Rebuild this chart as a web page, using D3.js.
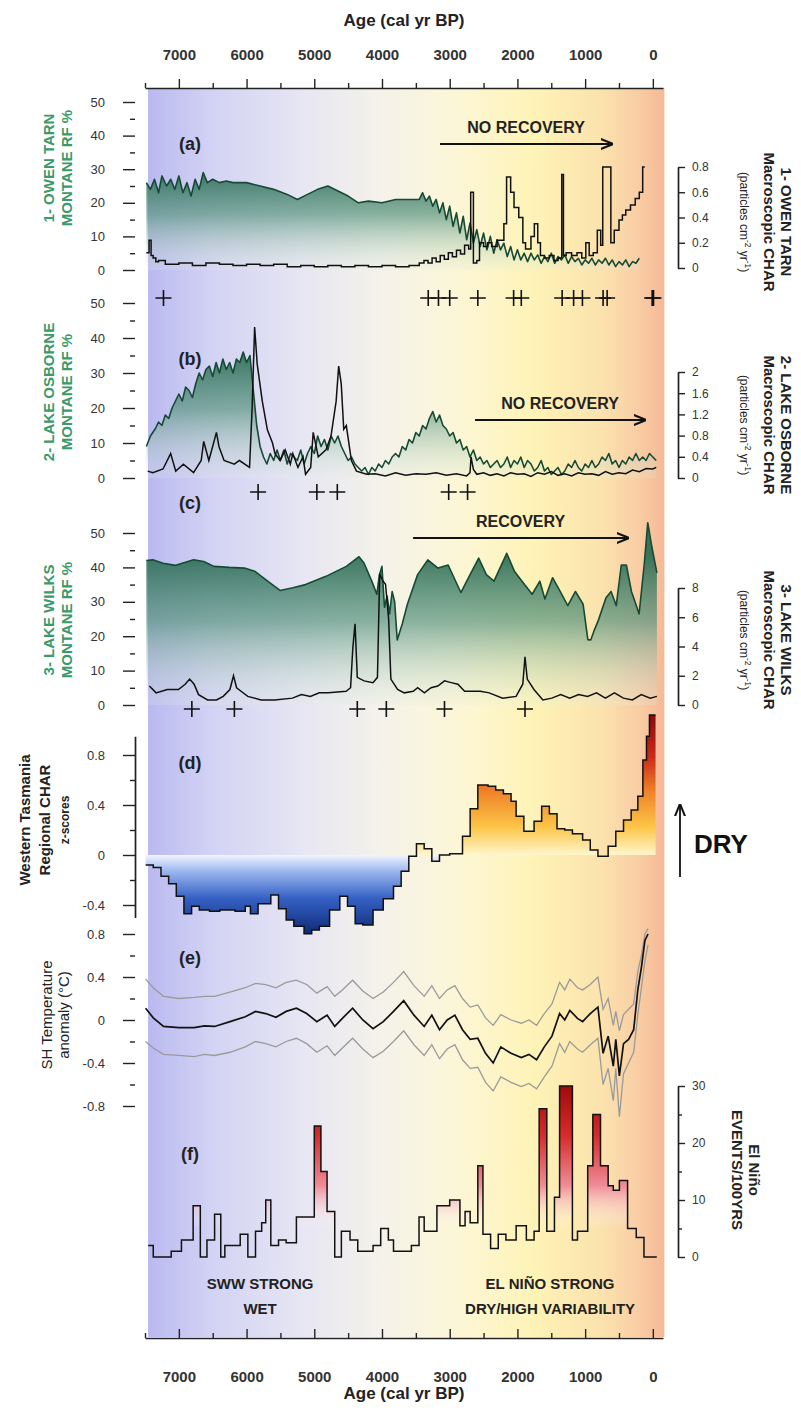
<!DOCTYPE html>
<html lang="en">
<head>
<meta charset="UTF-8">
<title>Fire, vegetation and climate, western Tasmania</title>
<script src="https://cdn.jsdelivr.net/npm/d3@7"></script>
<style>
  html, body { margin: 0; padding: 0; background: #fff; }
  text { font-family: "Liberation Sans Narrow", "Liberation Sans", Arial, sans-serif; }
</style>
</head>
<body>
<script>
// ---- data (age cal yr BP, value) ----
const majorTicks = [7000, 6000, 5000, 4000, 3000, 2000, 1000, 0];
const minorTicks = [7500, 6500, 5500, 4500, 3500, 2500, 1500, 500];

// (a) Owen Tarn
const owenRf = [[7480,26],[7420,24],[7360,27],[7300,23],[7250,28],[7180,25],[7120,27],[7060,24],[7000,28],[6940,23],[6880,26],[6820,22],[6760,27],[6700,24],[6640,29],[6580,26],[6500,27],[6400,26],[6300,26.5],[6200,26],[6000,26],[5800,25],[5600,24],[5400,22.5],[5250,21],[5100,22.5],[4950,24],[4800,25],[4650,23.5],[4500,22],[4350,20],[4200,20.5],[4000,20],[3800,21],[3600,21],[3450,21],[3400,23],[3350,20.5],[3300,22],[3250,19],[3200,21],[3150,17],[3100,20],[3050,15],[3000,19],[2950,13],[2900,17],[2850,11],[2800,16],[2750,9],[2700,14],[2650,8],[2600,12],[2550,7],[2500,11],[2450,6],[2400,10],[2350,5],[2300,9],[2250,6],[2200,8],[2150,4],[2100,7],[2050,3],[2000,6],[1950,3],[1900,5],[1850,2.5],[1800,5],[1750,3],[1700,4.5],[1650,2],[1600,4],[1550,2.5],[1500,5],[1450,2],[1400,4],[1350,3],[1300,4.5],[1250,2],[1200,4],[1150,2.5],[1100,3.5],[1050,1.5],[1000,3],[950,2],[900,3.5],[850,1.5],[800,3],[750,2],[700,3.5],[650,1.5],[600,3],[550,1],[500,2.5],[450,1.5],[400,3],[350,1],[300,2.5],[250,2],[200,3.5]];
const owenChar = [[7480,0.12],[7440,0.22],[7410,0.1],[7380,0.08],[7340,0.05],[7300,0.06],[7200,0.03],[7000,0.04],[6800,0.02],[6600,0.04],[6400,0.03],[6200,0.02],[6000,0.03],[5800,0.02],[5600,0.03],[5400,0.01],[5200,0.02],[5000,0.01],[4800,0.02],[4600,0.01],[4400,0.02],[4200,0.01],[4000,0.02],[3800,0.01],[3600,0.02],[3450,0.04],[3380,0.06],[3320,0.04],[3260,0.08],[3200,0.05],[3140,0.1],[3080,0.07],[3020,0.12],[2960,0.09],[2900,0.14],[2840,0.11],[2780,0.18],[2720,0.15],[2690,0.6],[2650,0.04],[2600,0.06],[2560,0.2],[2500,0.17],[2440,0.2],[2380,0.17],[2300,0.22],[2200,0.35],[2160,0.72],[2100,0.6],[2050,0.48],[1980,0.4],[1920,0.2],[1880,0.15],[1800,0.25],[1750,0.35],[1700,0.2],[1660,0.1],[1600,0.08],[1530,0.1],[1460,0.06],[1400,0.08],[1345,0.74],[1320,0.1],[1280,0.12],[1200,0.1],[1120,0.12],[1050,0.08],[990,0.2],[940,0.1],[880,0.12],[820,0.3],[770,0.18],[740,0.8],[620,0.2],[570,0.3],[500,0.38],[450,0.42],[400,0.46],[330,0.5],[260,0.55],[200,0.6],[150,0.8],[120,0.8]];
const owenFires = [7227, 3317, 3166, 3000, 2585, 2056, 1943, 1339, 1170, 1040, 735, 675, 10, -10];

// (b) Lake Osborne
const osborneRf = [[7480,9],[7420,12],[7350,14],[7300,16],[7250,15],[7200,18],[7150,17],[7100,20],[7050,22],[7000,24],[6950,22],[6900,26],[6850,25],[6800,23],[6750,27],[6700,30],[6650,28],[6600,31],[6550,32],[6500,29],[6450,33],[6400,30],[6350,34],[6300,31],[6250,33],[6200,30],[6150,34],[6100,33],[6050,36],[6000,33],[5950,35],[5900,25],[5850,15],[5800,9],[5750,6],[5700,4],[5650,7],[5600,5],[5550,8],[5500,5],[5450,8],[5400,4],[5350,7],[5300,6],[5250,5],[5200,8],[5150,4],[5100,7],[5050,9],[5000,7],[4950,12],[4900,9],[4850,11],[4800,8],[4750,12],[4700,10],[4650,12],[4600,9],[4550,7],[4500,5],[4450,6],[4400,4],[4350,3],[4300,2],[4250,3],[4200,1],[4150,3],[4100,2],[4050,4],[4000,3],[3950,5],[3900,4],[3850,6],[3800,7],[3750,6],[3700,9],[3650,8],[3600,11],[3550,10],[3500,13],[3450,12],[3400,15],[3350,14],[3300,17],[3250,19],[3200,16],[3150,18],[3100,15],[3050,14],[3000,12],[2950,13],[2900,10],[2850,11],[2800,8],[2750,9],[2700,6],[2650,8],[2600,5],[2550,6],[2500,4],[2450,5],[2400,3],[2350,4],[2300,5],[2250,3],[2200,4],[2150,6],[2100,3],[2050,5],[2000,4],[1950,6],[1900,3],[1850,5],[1800,4],[1750,2],[1700,3],[1650,5],[1600,2],[1550,3],[1500,1],[1450,2],[1400,3],[1350,1],[1300,2],[1250,4],[1200,3],[1150,5],[1100,3],[1050,2],[1000,4],[950,3],[900,5],[850,3],[800,4],[750,6],[700,5],[650,7],[600,4],[550,5],[500,3],[450,5],[400,4],[350,6],[300,5],[250,7],[200,5],[150,6],[100,5],[50,7],[0,6],[-50,5]];
const osborneChar = [[7460,0.13],[7385,0.1],[7234,0.17],[7121,0.46],[7046,0.13],[6933,0.26],[6783,0.1],[6670,0.33],[6633,0.69],[6557,0.33],[6445,0.86],[6407,0.59],[6332,0.33],[6181,0.26],[6106,0.33],[5956,0.2],[5918,1.32],[5881,2.85],[5843,2.15],[5768,1.45],[5693,0.91],[5617,0.66],[5580,0.46],[5505,0.33],[5429,0.53],[5354,0.26],[5317,0.46],[5241,0.2],[5166,0.4],[5129,0.07],[5053,0.2],[5016,0.86],[4941,0.4],[4828,0.53],[4753,0.79],[4677,1.45],[4640,2.11],[4602,1.78],[4565,0.92],[4527,0.99],[4452,0.33],[4377,0.13],[4226,0.07],[4100,0.08],[3950,0.04],[3800,0.1],[3650,0.05],[3500,0.08],[3350,0.07],[3200,0.1],[3050,0.05],[2900,0.08],[2750,0.04],[2700,0.1],[2685,0.4],[2650,0.16],[2600,0.07],[2500,0.1],[2400,0.05],[2300,0.08],[2200,0.04],[2100,0.1],[2000,0.07],[1900,0.08],[1800,0.03],[1700,0.1],[1600,0.07],[1500,0.12],[1400,0.05],[1300,0.08],[1200,0.04],[1100,0.1],[1000,0.07],[900,0.08],[800,0.05],[700,0.12],[600,0.07],[500,0.1],[400,0.08],[300,0.15],[200,0.12],[100,0.18],[0,0.17],[-50,0.2]];
const osborneFires = [5830, 4962, 4660, 3015, 2736];

// (c) Lake Wilks
const wilksRf = [[7480,42],[7385,42.2],[7234,41.2],[7046,40.6],[6783,42.2],[6633,41.7],[6482,40.3],[6257,40],[6031,39.8],[5881,38.9],[5655,35.5],[5505,33.3],[5317,34.1],[5129,35],[4828,37.4],[4527,40.3],[4339,43.1],[4264,41.2],[4151,36],[4076,32.2],[4038,37.9],[4001,40.3],[3963,28.4],[3925,31.7],[3888,26.5],[3850,33],[3813,30],[3775,18.9],[3700,23.6],[3625,29.3],[3474,37.9],[3324,42.2],[3173,39.8],[3023,40.7],[2835,32.7],[2722,37],[2572,42.7],[2459,37.9],[2346,36],[2158,44.1],[2045,38.9],[1895,35],[1782,32.2],[1669,36],[1594,30.8],[1481,37],[1369,33],[1256,28.9],[1143,33],[1030,29.3],[960,19],[917,18.9],[860,22],[805,24.6],[692,31.2],[617,33],[541,28.9],[466,40.7],[391,40.7],[316,33],[203,26.5],[128,40.7],[75,53],[15,46],[-60,38.4]];
const wilksChar = [[7435,1.3],[7336,0.83],[7171,1.06],[7006,1.06],[6907,1.42],[6841,1.77],[6775,1.42],[6709,0.71],[6576,0.35],[6444,0.35],[6345,0.59],[6246,1.06],[6193,2.0],[6147,1.18],[6081,0.94],[5982,0.59],[5784,0.35],[5586,0.35],[5322,0.47],[5190,0.71],[5058,0.59],[4926,0.83],[4794,0.83],[4530,0.94],[4464,1.18],[4431,3.9],[4398,5.55],[4365,1.89],[4265,1.65],[4133,1.53],[4067,1.89],[4034,8.97],[3990,8.5],[3948,8.26],[3902,5.9],[3869,1.77],[3770,1.06],[3671,0.83],[3539,0.94],[3473,1.18],[3374,0.83],[3275,1.18],[3176,1.3],[3077,1.65],[2978,1.53],[2879,1.42],[2780,0.94],[2548,0.94],[2417,0.83],[2219,0.47],[2020,0.59],[1921,1.42],[1888,3.3],[1855,1.77],[1756,1.06],[1624,0.35],[1492,0.47],[1360,0.71],[1228,0.47],[1096,0.71],[964,0.59],[832,0.83],[700,0.47],[567,0.83],[435,0.47],[303,0.35],[171,0.71],[39,0.47],[-60,0.59]];
const wilksFires = [6808, 6180, 4365, 3936, 3077, 1888];

// (d) regional CHAR z-scores (step bins)
const regionalZ = [[7491,-0.08],[7378,-0.1],[7264,-0.17],[7151,-0.23],[7038,-0.33],[6925,-0.47],[6812,-0.41],[6698,-0.44],[6547,-0.45],[6396,-0.44],[6170,-0.45],[6019,-0.41],[5943,-0.47],[5830,-0.39],[5642,-0.32],[5528,-0.43],[5415,-0.52],[5302,-0.57],[5151,-0.63],[5038,-0.6],[4925,-0.57],[4774,-0.44],[4623,-0.33],[4509,-0.41],[4396,-0.55],[4283,-0.56],[4132,-0.44],[3981,-0.35],[3830,-0.25],[3717,-0.13],[3604,-0.01],[3491,0.09],[3377,0.05],[3264,-0.05],[3151,0],[3000,0.01],[2811,0.15],[2698,0.37],[2585,0.56],[2434,0.55],[2321,0.52],[2207,0.49],[2094,0.43],[2019,0.31],[1905,0.19],[1754,0.27],[1642,0.39],[1528,0.33],[1415,0.21],[1302,0.2],[1188,0.17],[1037,0.12],[924,0.04],[811,-0.01],[660,0.07],[547,0.19],[433,0.28],[320,0.36],[222,0.47],[147,0.76],[94,0.95],[50,1.12],[-40,1.12]];

// (e) SH temperature anomaly, mean and envelope
const shTemp = [[7491,0.11],[7378,0.02],[7227,-0.06],[7000,-0.07],[6774,-0.07],[6623,-0.055],[6472,-0.06],[6245,-0.015],[6019,0.03],[5868,0.08],[5717,0.06],[5566,0.025],[5415,0.08],[5264,0.11],[5113,0.06],[4962,-0.015],[4811,0.045],[4698,-0.06],[4585,0.015],[4434,0.11],[4283,0],[4132,-0.08],[3981,-0.015],[3830,0.08],[3679,0.18],[3528,0.045],[3377,-0.06],[3264,0.045],[3151,-0.09],[3037,0],[2924,0.045],[2811,-0.09],[2698,-0.18],[2585,-0.17],[2471,-0.31],[2358,-0.4],[2245,-0.25],[2094,-0.31],[1943,-0.35],[1830,-0.32],[1717,-0.37],[1603,-0.25],[1490,-0.15],[1377,0.06],[1301,0],[1226,0.09],[1113,0.015],[1037,-0.015],[924,0.06],[811,0.12],[735,-0.31],[660,-0.15],[584,-0.43],[547,-0.18],[494,-0.52],[433,-0.22],[358,-0.18],[283,-0.09],[222,0.28],[169,0.49],[117,0.74],[71,0.8]];
const shUpper = [[7491,0.38],[7378,0.3],[7227,0.22],[7000,0.2],[6774,0.21],[6623,0.22],[6472,0.22],[6245,0.26],[6019,0.3],[5868,0.34],[5717,0.33],[5566,0.3],[5415,0.35],[5264,0.37],[5113,0.33],[4962,0.25],[4811,0.31],[4698,0.22],[4585,0.28],[4434,0.37],[4283,0.27],[4132,0.2],[3981,0.26],[3830,0.35],[3679,0.45],[3528,0.32],[3377,0.22],[3264,0.32],[3151,0.2],[3037,0.28],[2924,0.32],[2811,0.2],[2698,0.12],[2585,0.14],[2471,0.02],[2358,-0.05],[2245,0.05],[2094,0],[1943,-0.03],[1830,0],[1717,-0.05],[1603,0.06],[1490,0.15],[1377,0.35],[1301,0.28],[1226,0.38],[1113,0.3],[1037,0.28],[924,0.33],[811,0.4],[735,0.1],[660,0.2],[584,-0.05],[547,0.08],[494,-0.1],[433,0.05],[358,0.1],[283,0.15],[222,0.45],[169,0.6],[117,0.8],[71,0.85]];
const shLower = [[7491,-0.2],[7378,-0.26],[7227,-0.32],[7000,-0.33],[6774,-0.34],[6623,-0.32],[6472,-0.33],[6245,-0.3],[6019,-0.25],[5868,-0.2],[5717,-0.22],[5566,-0.25],[5415,-0.2],[5264,-0.17],[5113,-0.22],[4962,-0.3],[4811,-0.24],[4698,-0.33],[4585,-0.26],[4434,-0.17],[4283,-0.27],[4132,-0.35],[3981,-0.29],[3830,-0.2],[3679,-0.1],[3528,-0.23],[3377,-0.33],[3264,-0.23],[3151,-0.36],[3037,-0.27],[2924,-0.23],[2811,-0.37],[2698,-0.45],[2585,-0.44],[2471,-0.58],[2358,-0.66],[2245,-0.53],[2094,-0.58],[1943,-0.62],[1830,-0.59],[1717,-0.64],[1603,-0.53],[1490,-0.43],[1377,-0.22],[1301,-0.3],[1226,-0.2],[1113,-0.27],[1037,-0.3],[924,-0.23],[811,-0.17],[735,-0.6],[660,-0.45],[584,-0.75],[547,-0.45],[494,-0.9],[433,-0.5],[358,-0.4],[283,-0.3],[222,0.05],[169,0.3],[117,0.55],[71,0.7]];

// (f) El Nino events / 100 yrs (step bins)
const ninoEvents = [[7453,2],[7378,0],[7113,1],[6962,3],[6789,9],[6683,0],[6585,3],[6472,7.5],[6381,0],[6321,2],[6094,4],[5981,0],[5868,4.5],[5777,6],[5717,10],[5642,2],[5528,3],[5415,2.5],[5264,7],[5000,23],[4902,15],[4811,8],[4698,0],[4600,4.5],[4472,3],[4358,1],[4132,2],[4019,5],[3906,3],[3830,1],[3566,2],[3453,7],[3377,4.5],[3189,9],[3000,10],[2849,5.5],[2773,8],[2698,6],[2585,16],[2509,4],[2396,1.5],[2283,4],[2170,3],[2019,5.5],[1868,3],[1754,4.5],[1679,26],[1566,4.5],[1453,10.5],[1377,30],[1188,3],[1113,4.5],[962,16],[886,25],[773,16],[660,12.5],[584,11.7],[494,13.4],[373,5],[245,3.4],[131,0],[-58,0]];

// arrows: [from age, to age]
const recoveryArrows = [
  { panel: "a", from: 3143, to: 602, label: "NO RECOVERY" },
  { panel: "b", from: 2626, to: 115, label: "NO RECOVERY" },
  { panel: "c", from: 3541, to: 366, label: "RECOVERY" }
];

// ---- layout ----
const width = 801, height = 1412;
const svg = d3.select("body").append("svg").attr("width", width).attr("height", height);
const defs = svg.append("defs");

const x = d3.scaleLinear().domain([7500, -150]).range([145, 663]);
const axLeftX = 135, axRightX = 678;

const yA = d3.scaleLinear().domain([0, 50]).range([270, 102]);
const yAr = d3.scaleLinear().domain([0, 0.8]).range([268, 167]);
const yB = d3.scaleLinear().domain([0, 50]).range([478, 303]);
const yBr = d3.scaleLinear().domain([0, 2]).range([478, 372]);
const yC = d3.scaleLinear().domain([0, 50]).range([705, 533]);
const yCr = d3.scaleLinear().domain([0, 8]).range([705, 588]);
const yD = d3.scaleLinear().domain([-0.5, 0.95]).range([917.5, 736.25]);
const yE = d3.scaleLinear().domain([-0.8, 0.8]).range([1106, 934]);
const yF = d3.scaleLinear().domain([0, 30]).range([1257, 1086]);

function grad(id, x1, y1, x2, y2, stops) {
  const g = defs.append("linearGradient").attr("id", id)
    .attr("gradientUnits", "userSpaceOnUse")
    .attr("x1", x1).attr("y1", y1).attr("x2", x2).attr("y2", y2);
  stops.forEach(s => g.append("stop").attr("offset", s[0]).attr("stop-color", s[1])
    .attr("stop-opacity", s[2] == null ? 1 : s[2]));
}

// background climate shading
const bgL = x(7455), bgR = x(-170);
grad("bg", bgL, 0, bgR, 0, [
  [0, "#b9b9f1"], [0.12, "#d2d2f4"], [0.3, "#e7e6f3"], [0.45, "#f4f2ea"],
  [0.6, "#fcf6d6"], [0.75, "#fef3b6"], [0.88, "#fbe2ad"], [0.95, "#f9cda4"], [1, "#f5b995"]
]);
svg.append("rect").attr("x", bgL).attr("y", 88).attr("width", bgR - bgL).attr("height", 1249)
  .attr("fill", "url(#bg)");

// green fill gradients
[["gA", yA(30), yA(0)], ["gB", yB(36), yB(0)], ["gC", yC(44), yC(0)]].forEach(([id, t, b]) =>
  grad(id, 0, t, 0, b, [[0, "#2a6a52", 0.92], [0.45, "#5a9580", 0.7], [1, "#e2eee2", 0.2]]));
grad("dPos", 0, yD(1.12), 0, yD(0), [[0, "#8a0c0c"], [0.3, "#cc2a18"], [0.55, "#ef8428"], [0.8, "#fcc548"], [1, "#fff6cc"]]);
grad("dNeg", 0, yD(0), 0, yD(-0.63), [[0, "#f2f5ff"], [0.2, "#9db8ee"], [0.55, "#3561c4"], [1, "#0e2b78"]]);
grad("fRed", 0, yF(30), 0, yF(5), [[0, "#a00a0a"], [0.35, "#d62c2c"], [0.7, "#ef8c98"], [1, "#ffffff", 0]]);

defs.append("marker").attr("id", "arrow").attr("viewBox", "0 0 10 10")
  .attr("refX", 9).attr("refY", 5).attr("markerWidth", 7).attr("markerHeight", 7)
  .attr("orient", "auto")
  .append("path").attr("d", "M0,1L10,5L0,9").attr("fill", "none").attr("stroke", "#111").attr("stroke-width", 1.6);

// ---- axes ----
function styleAxis(g, size, weight) {
  g.attr("font-family", null).attr("font-size", null);
  g.selectAll("text").attr("font-size", size).attr("font-weight", weight || "bold").attr("fill", "#333");
  g.selectAll("line").attr("stroke", "#222").attr("stroke-width", 1.4);
  g.selectAll(".domain").attr("stroke", "#222").attr("stroke-width", 1.7);
  return g;
}

// top age axis
styleAxis(svg.append("g").attr("transform", "translate(0,88)")
  .call(d3.axisTop(x).tickValues(majorTicks).tickSize(9).tickSizeOuter(0).tickPadding(19).tickFormat(d3.format("d"))), 15);
styleAxis(svg.append("g").attr("transform", "translate(0,88)")
  .call(d3.axisTop(x).tickValues(minorTicks).tickSize(5).tickFormat("")), 15).select(".domain").remove();
// bottom age axis
styleAxis(svg.append("g").attr("transform", "translate(0,1338)")
  .call(d3.axisBottom(x).tickValues(majorTicks).tickSize(-9).tickSizeOuter(0).tickPadding(33).tickFormat(d3.format("d"))), 15);
styleAxis(svg.append("g").attr("transform", "translate(0,1338)")
  .call(d3.axisBottom(x).tickValues(minorTicks).tickSize(-5).tickFormat("")), 15).select(".domain").remove();

svg.append("text").attr("x", 404).attr("y", 26).attr("text-anchor", "middle")
  .attr("font-size", 17).attr("font-weight", "bold").attr("fill", "#222").text("Age (cal yr BP)");
svg.append("text").attr("x", 404).attr("y", 1399).attr("text-anchor", "middle")
  .attr("font-size", 17).attr("font-weight", "bold").attr("fill", "#222").text("Age (cal yr BP)");

const fmtDec = d => d === 0 ? "0" : d3.format(".1f")(d).replace("−", "-");
const fmtG = d => d3.format("~g")(d);

function leftAxis(scale, major, minor, fmt, keepLine) {
  const g = styleAxis(svg.append("g").attr("transform", `translate(${axLeftX},0)`)
    .call(d3.axisLeft(scale).tickValues(major).tickSize(12).tickSizeOuter(0).tickPadding(18).tickFormat(fmt)), 13, "normal");
  if (!keepLine) g.select(".domain").remove();
  styleAxis(svg.append("g").attr("transform", `translate(${axLeftX},0)`)
    .call(d3.axisLeft(scale).tickValues(minor).tickSize(5).tickFormat("")), 13).select(".domain").remove();
}
function rightAxis(scale, major, minor, fmt) {
  styleAxis(svg.append("g").attr("transform", `translate(${axRightX},0)`)
    .call(d3.axisRight(scale).tickValues(major).tickSize(7).tickSizeOuter(0).tickPadding(7).tickFormat(fmt)), 12, "normal");
  if (minor.length) styleAxis(svg.append("g").attr("transform", `translate(${axRightX},0)`)
    .call(d3.axisRight(scale).tickValues(minor).tickSize(4).tickFormat("")), 12).select(".domain").remove();
}

leftAxis(yA, [0, 10, 20, 30, 40, 50], [5, 15, 25, 35, 45], fmtG);
leftAxis(yB, [0, 10, 20, 30, 40, 50], [5, 15, 25, 35, 45], fmtG);
leftAxis(yC, [0, 10, 20, 30, 40, 50], [5, 15, 25, 35, 45], fmtG);
leftAxis(yD, [0.8, 0.4, 0, -0.4], [0.6, 0.2, -0.2], fmtDec, true);
leftAxis(yE, [0.8, 0.4, 0, -0.4, -0.8], [0.6, 0.2, -0.2, -0.6], fmtDec);
rightAxis(yAr, [0, 0.2, 0.4, 0.6, 0.8], [], fmtDec);
rightAxis(yBr, [0, 0.4, 0.8, 1.2, 1.6, 2], [], fmtG);
rightAxis(yCr, [0, 2, 4, 6, 8], [], fmtG);
rightAxis(yF, [0, 10, 20, 30], [5, 15, 25], fmtG);

// ---- marks ----
const lin = ys => d3.line().x(d => x(d[0])).y(d => ys(d[1]));
const step = ys => d3.line().x(d => x(d[0])).y(d => ys(d[1])).curve(d3.curveStepAfter);

function greenPanel(data, ys, gid) {
  svg.append("path").datum(data).attr("fill", `url(#${gid})`)
    .attr("d", d3.area().x(d => x(d[0])).y0(ys(0)).y1(d => ys(d[1])));
  svg.append("path").datum(data).attr("fill", "none").attr("stroke", "#174a34").attr("stroke-width", 1.6)
    .attr("stroke-linejoin", "round").attr("d", lin(ys));
}
function blackLine(data, ys, curve) {
  svg.append("path").datum(data).attr("fill", "none").attr("stroke", "#111").attr("stroke-width", 1.5)
    .attr("d", (curve ? step(ys) : lin(ys)));
}
function crosses(ages, cy) {
  svg.append("g").selectAll("path").data(ages).join("path")
    .attr("d", a => `M${x(a) - 8},${cy}h16M${x(a)},${cy - 8}v16`)
    .attr("stroke", "#111").attr("stroke-width", 1.6).attr("fill", "none");
}

greenPanel(owenRf, yA, "gA");
blackLine(owenChar, yAr, true);
crosses(owenFires, 298);

greenPanel(osborneRf, yB, "gB");
blackLine(osborneChar, yBr, false);
crosses(osborneFires, 492);

greenPanel(wilksRf, yC, "gC");
blackLine(wilksChar, yCr, false);
crosses(wilksFires, 709);

// (d)
svg.append("path").datum(regionalZ).attr("fill", "url(#dPos)")
  .attr("d", d3.area().x(d => x(d[0])).y0(yD(0)).y1(d => yD(Math.max(d[1], 0))).curve(d3.curveStepAfter));
svg.append("path").datum(regionalZ).attr("fill", "url(#dNeg)")
  .attr("d", d3.area().x(d => x(d[0])).y0(yD(0)).y1(d => yD(Math.min(d[1], 0))).curve(d3.curveStepAfter));
blackLine(regionalZ, yD, true);

// (e)
[shUpper, shLower].forEach(s => svg.append("path").datum(s).attr("fill", "none")
  .attr("stroke", "#9a9a9a").attr("stroke-width", 1.3).attr("d", lin(yE)));
svg.append("path").datum(shTemp).attr("fill", "none").attr("stroke", "#111")
  .attr("stroke-width", 1.7).attr("d", lin(yE));

// (f)
svg.append("path").datum(ninoEvents).attr("fill", "url(#fRed)")
  .attr("d", d3.area().x(d => x(d[0])).y0(yF(5)).y1(d => yF(Math.max(d[1], 5))).curve(d3.curveStepAfter));
blackLine(ninoEvents, yF, true);

// ---- annotations ----
const arrowY = { a: 144, b: 420, c: 538 };
recoveryArrows.forEach(r => {
  svg.append("line").attr("x1", x(r.from)).attr("x2", x(r.to)).attr("y1", arrowY[r.panel]).attr("y2", arrowY[r.panel])
    .attr("stroke", "#111").attr("stroke-width", 1.8).attr("marker-end", "url(#arrow)");
  svg.append("text").attr("x", (x(r.from) + x(r.to)) / 2).attr("y", arrowY[r.panel] - 11)
    .attr("text-anchor", "middle").attr("font-size", 16).attr("font-weight", "bold").attr("fill", "#222").text(r.label);
});

const panelLabels = [["(a)", 150], ["(b)", 365], ["(c)", 509], ["(d)", 769], ["(e)", 964], ["(f)", 1160]];
svg.append("g").selectAll("text").data(panelLabels).join("text")
  .attr("x", 190).attr("y", d => d[1]).attr("text-anchor", "middle")
  .attr("font-size", 18).attr("font-weight", "bold").attr("fill", "#222").text(d => d[0]);

// DRY arrow
svg.append("line").attr("x1", 680).attr("x2", 680).attr("y1", 877).attr("y2", 805)
  .attr("stroke", "#111").attr("stroke-width", 1.8).attr("marker-end", "url(#arrow)");
svg.append("text").attr("x", 694).attr("y", 853).attr("font-size", 26).attr("font-weight", "bold")
  .attr("fill", "#111").text("DRY");

const regionText = [
  { age: 5800, y: 1289, t: "SWW STRONG" }, { age: 5800, y: 1314, t: "WET" },
  { age: 1518, y: 1289, t: "EL NIÑO STRONG" }, { age: 1518, y: 1314, t: "DRY/HIGH VARIABILITY" }
];
svg.append("g").selectAll("text").data(regionText).join("text")
  .attr("x", d => x(d.age)).attr("y", d => d.y).attr("text-anchor", "middle")
  .attr("font-size", 15).attr("font-weight", "bold").attr("fill", "#222").text(d => d.t);

// rotated axis titles
function vTitle(cx, cy, rot, lines) {
  lines.forEach(l => {
    const t = svg.append("text").attr("transform", `translate(${cx + l.dx},${cy}) rotate(${rot})`)
      .attr("text-anchor", "middle").attr("font-size", l.size).attr("font-weight", l.weight || "bold")
      .attr("fill", l.color || "#222");
    l.parts.forEach(p => {
      const s = t.append("tspan").text(p.t);
      if (p.sup) s.attr("baseline-shift", "super").attr("font-size", l.size * 0.7);
    });
  });
}
const green = "#3a9a69";
const rfLines = name => [
  { dx: 0, size: 15, color: green, parts: [{ t: name }] },
  { dx: 18, size: 15, color: green, parts: [{ t: "MONTANE RF %" }] }
];
vTitle(54, 168, -90, rfLines("1- OWEN TARN"));
vTitle(54, 392, -90, rfLines("2- LAKE OSBORNE"));
vTitle(54, 620, -90, rfLines("3- LAKE WILKS"));
vTitle(30, 820, -90, [
  { dx: 0, size: 15, parts: [{ t: "Western Tasmania" }] },
  { dx: 20, size: 15, parts: [{ t: "Regional CHAR" }] },
  { dx: 39, size: 12, parts: [{ t: "z-scores" }] }
]);
vTitle(52, 1015, -90, [
  { dx: 0, size: 15, weight: "normal", parts: [{ t: "SH Temperature" }] },
  { dx: 17, size: 15, weight: "normal", parts: [{ t: "anomaly (°C)" }] }
]);

const charLines = name => [
  { dx: 0, size: 15, parts: [{ t: name }] },
  { dx: -17, size: 15, parts: [{ t: "Macroscopic CHAR" }] },
  { dx: -41, size: 12, weight: "normal", parts: [{ t: "(particles cm" }, { t: "-2", sup: true }, { t: " yr" }, { t: "-1", sup: true }, { t: ")" }] }
];
vTitle(781, 222, 90, charLines("1- OWEN TARN"));
vTitle(781, 425, 90, charLines("2- LAKE OSBORNE"));
vTitle(781, 640, 90, charLines("3- LAKE WILKS"));
vTitle(749, 1170, 90, [
  { dx: 0, size: 15, parts: [{ t: "El Niño" }] },
  { dx: -17, size: 15, parts: [{ t: "EVENTS/100YRS" }] }
]);
</script>
</body>
</html>
